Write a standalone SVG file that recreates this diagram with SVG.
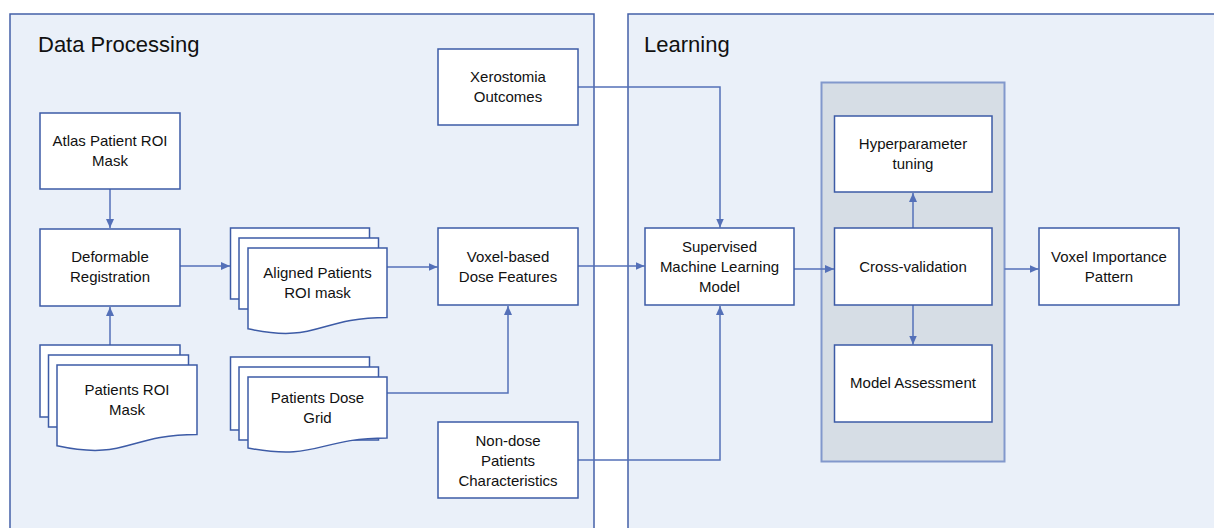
<svg xmlns="http://www.w3.org/2000/svg" width="1214" height="528" viewBox="0 0 1214 528">
<defs>
<marker id="arr" markerUnits="userSpaceOnUse" markerWidth="10" markerHeight="10" viewBox="0 0 10 10" refX="9" refY="5" orient="auto">
<path d="M0,1 L9,5 L0,9 Z" fill="#5470B8"/>
</marker>
<style>
.panel{fill:#EAF0F9;stroke:#4460A8;stroke-width:1.5}
.box{fill:#FFFFFF;stroke:#3D5BA6;stroke-width:1.5}
.grp{fill:#D6DDE5;stroke:#8298CC;stroke-width:2}
.con{fill:none;stroke:#5470B8;stroke-width:1.5}
.t{font-family:"Liberation Sans",Arial,sans-serif;font-size:15px;fill:#111;text-anchor:middle}
.h{font-family:"Liberation Sans",Arial,sans-serif;font-size:22px;fill:#111}
</style>
</defs>
<rect width="1214" height="528" fill="#FFFFFF"/>
<g id="panel-data">
<rect class="panel" x="10" y="14" width="584" height="530"/>
<text class="h" x="38" y="52">Data Processing</text>
</g>
<g id="panel-learning">
<rect class="panel" x="628" y="14" width="600" height="530"/>
<text class="h" x="644" y="52">Learning</text>
</g>
<g id="group-cv">
<rect class="grp" x="821.5" y="82.5" width="183" height="379"/>
</g>
<g id="connectors">
<path class="con" d="M110,189 V228" marker-end="url(#arr)"/>
<path class="con" d="M110,345 V307" marker-end="url(#arr)"/>
<path class="con" d="M180,266 H230" marker-end="url(#arr)"/>
<path class="con" d="M387,267 H437.5" marker-end="url(#arr)"/>
<path class="con" d="M387,393 H508 V306" marker-end="url(#arr)"/>
<path class="con" d="M578,266 H644.5" marker-end="url(#arr)"/>
<path class="con" d="M578,87 H720 V227.5" marker-end="url(#arr)"/>
<path class="con" d="M578,460 H720 V306" marker-end="url(#arr)"/>
<path class="con" d="M794,269 H834" marker-end="url(#arr)"/>
<path class="con" d="M913,228 V193" marker-end="url(#arr)"/>
<path class="con" d="M913,305 V344.5" marker-end="url(#arr)"/>
<path class="con" d="M1004.5,269 H1038.5" marker-end="url(#arr)"/>
</g>
<g id="xerostomia">
<rect class="box" x="438" y="49" width="140" height="76"/>
<text class="t" x="508" y="82">Xerostomia</text>
<text class="t" x="508" y="102">Outcomes</text>
</g>
<g id="atlas">
<rect class="box" x="40" y="113" width="140" height="76"/>
<text class="t" x="110" y="146">Atlas Patient ROI</text>
<text class="t" x="110" y="166">Mask</text>
</g>
<g id="deformable">
<rect class="box" x="40" y="229" width="140" height="77"/>
<text class="t" x="110" y="262">Deformable</text>
<text class="t" x="110" y="282">Registration</text>
</g>
<g id="aligned">
<rect class="box" x="230.5" y="228" width="139" height="71"/>
<rect class="box" x="239" y="238" width="139.5" height="71"/>
<path class="box" d="M248,248 H387 V317.4 C317.5,317.4 317.5,343.8 248,328.8 Z"/>
<text class="t" x="317.5" y="278">Aligned Patients</text>
<text class="t" x="317.5" y="298">ROI mask</text>
</g>
<g id="patients-roi">
<rect class="box" x="40" y="345" width="140" height="72"/>
<rect class="box" x="48.5" y="355" width="140" height="72"/>
<path class="box" d="M57,365 H197 V434.4 C127,434.4 127,460.8 57,445.8 Z"/>
<text class="t" x="127" y="395">Patients ROI</text>
<text class="t" x="127" y="415">Mask</text>
</g>
<g id="dose-grid">
<rect class="box" x="230.5" y="357" width="139" height="73"/>
<rect class="box" x="239" y="367" width="139.5" height="73"/>
<path class="box" d="M248,377 H387 V438 C317.5,438 317.5,461.2 248,448 Z"/>
<text class="t" x="317.5" y="403">Patients Dose</text>
<text class="t" x="317.5" y="423">Grid</text>
</g>
<g id="voxel-features">
<rect class="box" x="438" y="228" width="140" height="77"/>
<text class="t" x="508" y="262">Voxel-based</text>
<text class="t" x="508" y="282">Dose Features</text>
</g>
<g id="non-dose">
<rect class="box" x="438" y="422" width="140" height="76"/>
<text class="t" x="508" y="446">Non-dose</text>
<text class="t" x="508" y="466">Patients</text>
<text class="t" x="508" y="486">Characteristics</text>
</g>
<g id="supervised">
<rect class="box" x="645" y="228" width="149" height="77"/>
<text class="t" x="719.5" y="252">Supervised</text>
<text class="t" x="719.5" y="272">Machine Learning</text>
<text class="t" x="719.5" y="292">Model</text>
</g>
<g id="hyperparameter">
<rect class="box" x="834.5" y="116" width="157.5" height="76"/>
<text class="t" x="913" y="149">Hyperparameter</text>
<text class="t" x="913" y="169">tuning</text>
</g>
<g id="cross-validation">
<rect class="box" x="834.5" y="228" width="157.5" height="77"/>
<text class="t" x="913" y="272">Cross-validation</text>
</g>
<g id="model-assessment">
<rect class="box" x="834.5" y="345" width="157.5" height="77"/>
<text class="t" x="913" y="388">Model Assessment</text>
</g>
<g id="voxel-importance">
<rect class="box" x="1039" y="228" width="140" height="77"/>
<text class="t" x="1109" y="262">Voxel Importance</text>
<text class="t" x="1109" y="282">Pattern</text>
</g>
</svg>
